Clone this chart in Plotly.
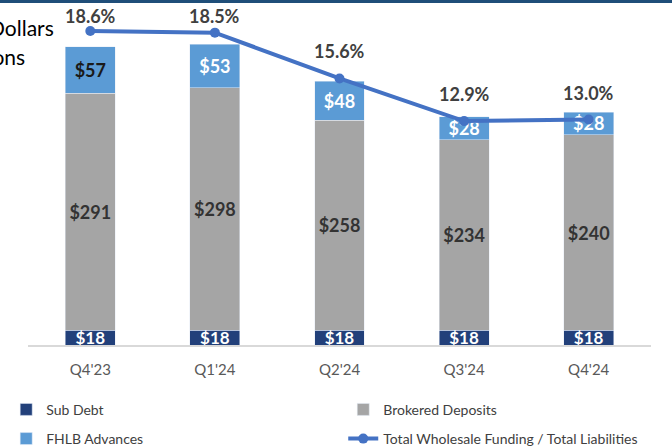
import plotly.graph_objects as go

quarters = ["Q4'23", "Q1'24", "Q2'24", "Q3'24", "Q4'24"]
sub_debt = [18, 18, 18, 18, 18]
brokered = [291, 298, 258, 234, 240]
fhlb = [57, 53, 48, 28, 28]
ratio_pct = [18.6, 18.5, 15.6, 12.9, 13.0]

FONT = "Lato"
W, H = 672, 448
M = dict(l=28, r=21, t=20, b=103)
Y2_RANGE = [-1.27, 19.3]
PLOT_H = H - M["t"] - M["b"]

fig = go.Figure()

fig.add_trace(go.Bar(
    x=quarters, y=sub_debt, name="Sub Debt", marker_color="#22407A",
    legend="legend", legendgroup="a",
    text=[f"${v}" for v in sub_debt], textposition="inside", insidetextanchor="middle",
    constraintext="none",
    textfont=dict(family=FONT, size=17, color="white", weight="bold"),
))
fig.add_trace(go.Bar(
    x=quarters, y=brokered, name="Brokered Deposits", marker_color="#A5A5A5",
    legend="legend2", legendgroup="b",
    text=[f"${v}" for v in brokered], textposition="inside", insidetextanchor="middle",
    constraintext="none",
    textfont=dict(family=FONT, size=18, color="#333333", weight="bold"),
))
fig.add_trace(go.Bar(
    x=quarters, y=fhlb, name="FHLB Advances", marker_color="#5B9BD5",
    legend="legend", legendgroup="c",
    text=[f"${v}" for v in fhlb], textposition="inside", insidetextanchor="middle",
    constraintext="none",
    textfont=dict(family=FONT, size=18, color=["#1a1a1a", "white", "white", "white", "white"], weight="bold"),
))
fig.add_trace(go.Scatter(
    x=quarters, y=ratio_pct, name="Total Wholesale Funding / Total Liabilities",
    legend="legend2", legendgroup="d",
    yaxis="y2", mode="lines+markers",
    line=dict(color="#4472C4", width=4), marker=dict(size=10, color="#4472C4"),
    cliponaxis=False,
))

# percentage labels above the line points, kept inside the top of the chart
annotations = []
for q, v in zip(quarters, ratio_pct):
    py = M["t"] + (Y2_RANGE[1] - v) / (Y2_RANGE[1] - Y2_RANGE[0]) * PLOT_H
    shift = min(27, py - 16)
    annotations.append(dict(x=q, y=v, xref="x", yref="y2", yshift=shift, text=f"{v:.1f}%",
                            showarrow=False, yanchor="middle",
                            font=dict(family=FONT, size=18, color="#404040", weight="bold")))

annotations += [
    dict(text="Dollars", xref="paper", yref="paper", x=0.045, y=0.976, xanchor="right",
         yanchor="middle", showarrow=False, font=dict(family=FONT, size=21, color="#000000")),
    dict(text="in Millions", xref="paper", yref="paper", x=-0.002, y=0.888, xanchor="right",
         yanchor="middle", showarrow=False, font=dict(family=FONT, size=21, color="#000000")),
]

legend_common = dict(orientation="v", yref="container", yanchor="top", y=0.121, tracegroupgap=8,
                     bgcolor="rgba(0,0,0,0)",
                     font=dict(family=FONT, size=14, color="#404040"))

fig.update_layout(
    width=W, height=H,
    margin=M,
    barmode="stack", bargap=0.6,
    plot_bgcolor="white", paper_bgcolor="white",
    font=dict(family=FONT, size=14, color="#595959"),
    showlegend=True,
    legend=dict(x=-0.035, xanchor="left", **legend_common),
    legend2=dict(x=0.506, xanchor="left", **legend_common),
    xaxis=dict(showline=True, linecolor="#D9D9D9", linewidth=1.5, ticks="",
               ticklabelstandoff=10,
               tickfont=dict(family=FONT, size=15, color="#595959")),
    yaxis=dict(range=[0, 399], visible=False, showgrid=False),
    yaxis2=dict(range=Y2_RANGE, overlaying="y", side="right", visible=False, showgrid=False),
    annotations=annotations,
    shapes=[dict(type="line", xref="paper", yref="paper", x0=-0.05, x1=1.05, y0=1.057, y1=1.057,
                 line=dict(color="#1F4E79", width=3))],
)

fig.write_html("out.html", config={"displayModeBar": False},
               post_script="document.body.style.margin='0';")
